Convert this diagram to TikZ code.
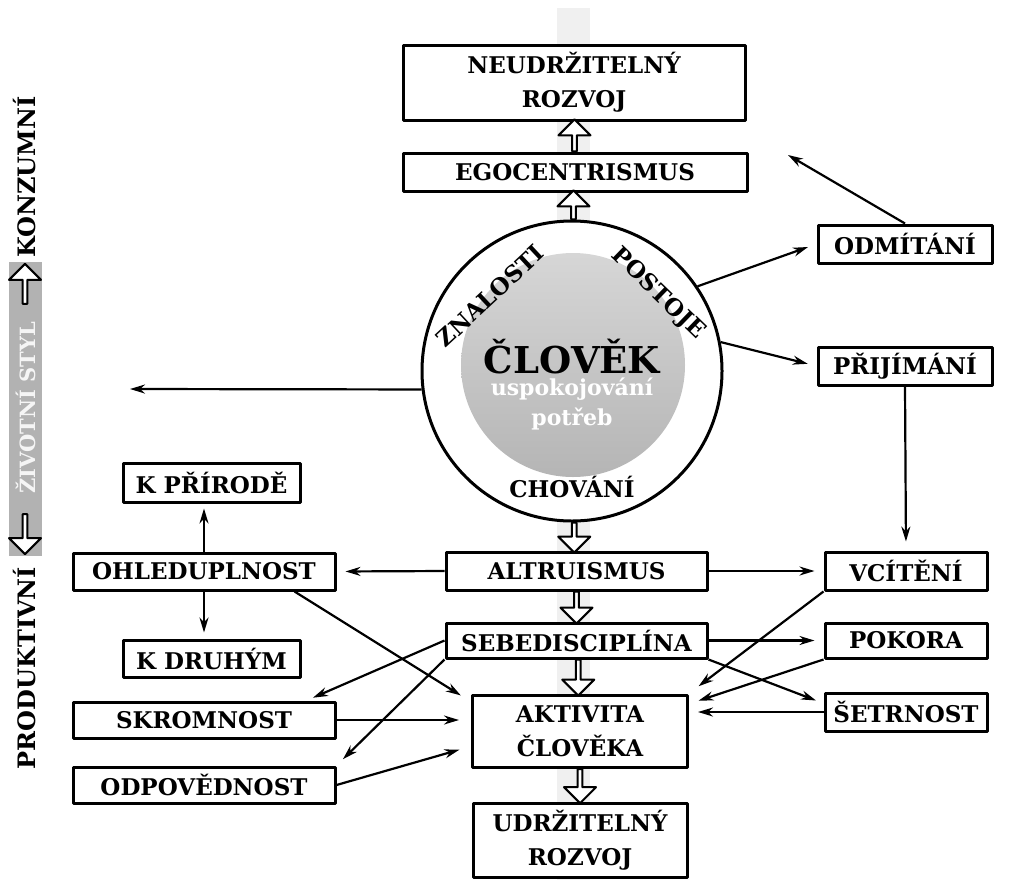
\documentclass[tikz,border=0pt]{standalone}
\usepackage{fontspec}
\setmainfont{DejaVu Serif}
\usetikzlibrary{arrows.meta,shapes.arrows,calc}
\newcommand{\boxfont}{\fontsize{23}{34}\selectfont\bfseries}
\newcommand{\sidefont}{\fontsize{24}{28}\selectfont\bfseries}
\tikzset{
  box/.style={draw, line width=3pt, fill=white, inner sep=0pt, align=center, font=\boxfont},
  conn/.style={line width=2.2pt, ->, shorten >=9pt},
  hollow/.style={single arrow, draw, line width=2pt, fill=white, inner sep=0pt,
    minimum width=32pt, single arrow head extend=6pt, minimum height=#1},
  vert/.style={rotate=90, font=\sidefont, inner sep=0pt},
}
\begin{document}
\begin{tikzpicture}[x=1pt,y=-1pt,line join=round,>={Stealth[length=15pt,width=9pt]}]
\useasboundingbox (0,0) rectangle (1033,895);
% svisly pruh za sipkami
\fill[gray!12] (557,8) rectangle (590,880);

% levy sloupec
\fill[gray!60] (9,262) rectangle (42,556);
\node[vert] (konz) at (25,177) {KONZUMNÍ};
\node[vert, text=gray!8, font=\fontsize{21}{24}\selectfont\bfseries] (ziv) at (26,408) {ŽIVOTNÍ STYL};
\node[vert] (prod) at (25,668) {PRODUKTIVNÍ};
\node[hollow=40pt, rotate=90] (upar) at (25,285) {};
\node[hollow=40pt, rotate=-90] (dnar) at (25,533) {};

% horni cast
\node[box, minimum width=342pt, minimum height=75pt] (neu) at (574,82.5) {NEUDRŽITELNÝ\\ROZVOJ};
\node[box, minimum width=344pt, minimum height=38pt] (ego) at (575,172) {EGOCENTRISMUS};

% kruh
\node[circle, draw, line width=3pt, fill=white, minimum size=300pt, inner sep=0pt] (clov) at (572,371) {};
\shade[top color=gray!32, bottom color=gray!58] (573,365) circle (112pt);
\node[font=\boxfont, rotate=43] (znal) at (490,296) {ZNALOSTI};
\node[font=\boxfont, rotate=-44] (post) at (658,294) {POSTOJE};
\node[font=\fontsize{37}{40}\selectfont\bfseries] (clovtxt) at (572,357) {ČLOVĚK};
\node[font=\fontsize{22}{30}\selectfont\bfseries, text=white, align=center] (potr) at (572,404) {uspokojování\\potřeb};
\node[font=\boxfont] (chov) at (572,487) {CHOVÁNÍ};

% stred
\node[box, minimum width=261pt, minimum height=38pt] (alt) at (576.5,571) {ALTRUISMUS};
\node[box, minimum width=261pt, minimum height=35pt] (sebe) at (576.5,640.5) {SEBEDISCIPLÍNA};
\node[box, minimum width=215pt, minimum height=72pt] (akt) at (580,731) {AKTIVITA\\ČLOVĚKA};
\node[box, minimum width=214pt, minimum height=74pt] (udr) at (580,840) {UDRŽITELNÝ\\ROZVOJ};

% vpravo
\node[box, minimum width=174pt, minimum height=38pt] (odm) at (905,244) {ODMÍTÁNÍ};
\node[box, minimum width=174pt, minimum height=38pt] (pri) at (905,366) {PŘIJÍMÁNÍ};
\node[box, minimum width=162pt, minimum height=38pt] (vci) at (906,571) {VCÍTĚNÍ};
\node[box, minimum width=162pt, minimum height=35pt] (pok) at (906,640.5) {POKORA};
\node[box, minimum width=162pt, minimum height=38pt] (set) at (906,712) {ŠETRNOST};

% vlevo
\node[box, minimum width=177pt, minimum height=39pt] (kpr) at (211.5,482.5) {K PŘÍRODĚ};
\node[box, minimum width=262pt, minimum height=37pt] (ohl) at (204,571.5) {OHLEDUPLNOST};
\node[box, minimum width=177pt, minimum height=37pt] (kdr) at (211.5,658.5) {K DRUHÝM};
\node[box, minimum width=262pt, minimum height=36pt] (skr) at (204,720) {SKROMNOST};
\node[box, minimum width=262pt, minimum height=36pt] (odp) at (204,785) {ODPOVĚDNOST};

% duté šipky
\node[hollow=32pt, rotate=90] (h1) at ($(neu.south)!0.5!(ego.north)$) {};
\node[hollow=29pt, rotate=90] (h2) at ($(ego.south)!0.5!(clov.north)$) {};
\node[hollow=30pt, rotate=-90] (h3) at ($(clov.south)!0.5!(alt.north)$) {};
\node[hollow=32pt, rotate=-90] (h4) at ($(alt.south)!0.5!(sebe.north)$) {};
\node[hollow=36pt, rotate=-90] (h5) at ($(sebe.south)!0.5!(akt.north)$) {};
\node[hollow=34pt, rotate=-90] (h6) at ($(akt.south)!0.5!(udr.north)$) {};

% volne konce
\coordinate (lft) at (130,389);
\coordinate (nahoru) at (788,155);

% spojnice
\draw[conn, shorten >=0pt] (clov.187) -- (lft);
\draw[conn, shorten >=0pt] (odm.north) -- (nahoru);
\draw[conn] (clov.34) -- (odm.west);
\draw[conn] (clov.11) -- (pri.west);
\draw[conn] (pri.south) -- (vci.north);
\draw[conn] (alt.east) -- (vci.west);
\draw[conn] (alt.west) -- (ohl.east);
\draw[conn, shorten >=5pt] (ohl.north) -- (ohl.north |- kpr.south);
\draw[conn, shorten >=6pt] (ohl.south) -- (ohl.south |- kdr.north);
\draw[conn, shorten >=12pt] ([xshift=-42pt]ohl.south east) -- (akt.165);
\draw[conn, shorten >=7pt] (sebe.west) -- ([xshift=-30pt]skr.north east);
\draw[conn] (sebe.south west) -- (odp.north east);
\draw[conn, shorten >=12pt] (skr.east) -- (skr.east -| akt.west);
\draw[conn, shorten >=12pt] (odp.east) -- (akt.188);
\draw[conn] (sebe.east) -- (pok.west);
\draw[conn, shorten >=8pt] (sebe.south east) -- (set.174);
\draw[conn, shorten >=12pt] (vci.south west) -- (akt.north east);
\draw[conn, shorten >=10pt] (pok.south west) -- (akt.14);
\draw[conn] (set.west) -- (set.west -| akt.east);
\end{tikzpicture}
\end{document}
